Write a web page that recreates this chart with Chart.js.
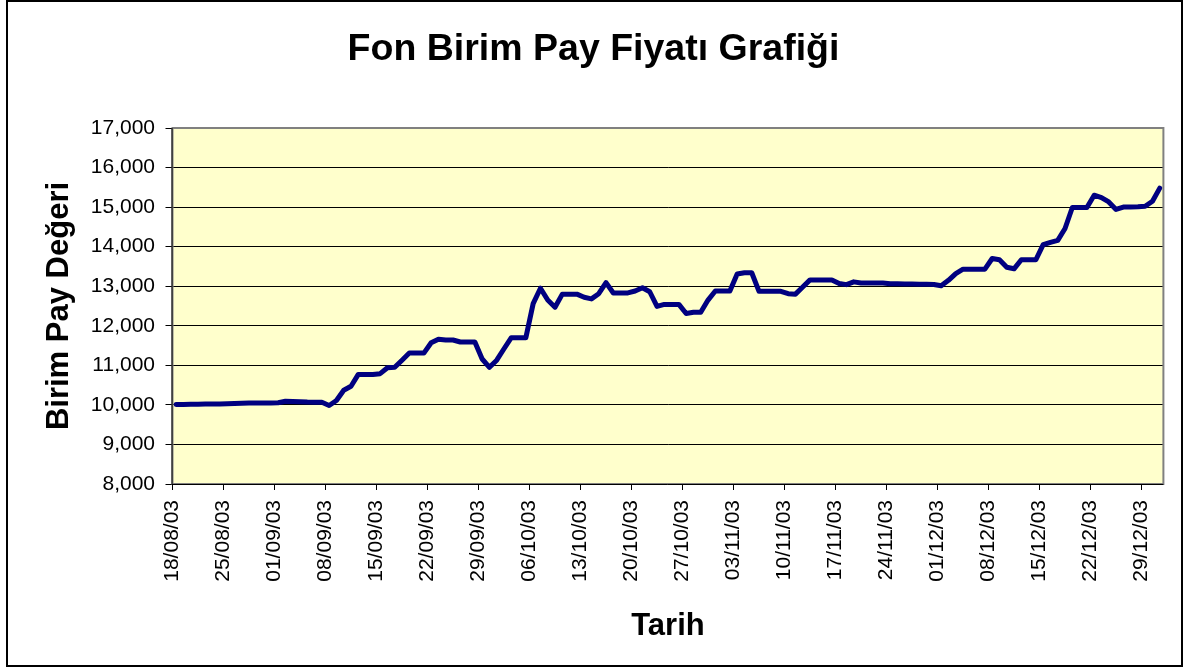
<!DOCTYPE html>
<html><head><meta charset="utf-8">
<script src="https://cdn.jsdelivr.net/npm/chart.js@4.4.1/dist/chart.umd.min.js"></script>
<style>html,body{margin:0;padding:0;background:#fff}canvas{display:block}</style>
</head><body>
<canvas id="c" width="1187" height="668"></canvas>
<script>
const dates = [
'18/08/03','19/08/03','20/08/03','21/08/03','22/08/03','23/08/03','24/08/03','25/08/03','26/08/03','27/08/03','28/08/03','29/08/03','30/08/03','31/08/03',
'01/09/03','02/09/03','03/09/03','04/09/03','05/09/03','06/09/03','07/09/03','08/09/03','09/09/03','10/09/03','11/09/03','12/09/03','13/09/03','14/09/03','15/09/03','16/09/03',
'17/09/03','18/09/03','19/09/03','20/09/03','21/09/03','22/09/03','23/09/03','24/09/03','25/09/03','26/09/03','27/09/03','28/09/03','29/09/03','30/09/03',
'01/10/03','02/10/03','03/10/03','04/10/03','05/10/03','06/10/03','07/10/03','08/10/03','09/10/03','10/10/03','11/10/03','12/10/03','13/10/03','14/10/03','15/10/03','16/10/03',
'17/10/03','18/10/03','19/10/03','20/10/03','21/10/03','22/10/03','23/10/03','24/10/03','25/10/03','26/10/03','27/10/03','28/10/03','29/10/03','30/10/03','31/10/03',
'01/11/03','02/11/03','03/11/03','04/11/03','05/11/03','06/11/03','07/11/03','08/11/03','09/11/03','10/11/03','11/11/03','12/11/03','13/11/03','14/11/03','15/11/03',
'16/11/03','17/11/03','18/11/03','19/11/03','20/11/03','21/11/03','22/11/03','23/11/03','24/11/03','25/11/03','26/11/03','27/11/03','28/11/03','29/11/03','30/11/03',
'01/12/03','02/12/03','03/12/03','04/12/03','05/12/03','06/12/03','07/12/03','08/12/03','09/12/03','10/12/03','11/12/03','12/12/03','13/12/03','14/12/03','15/12/03','16/12/03',
'17/12/03','18/12/03','19/12/03','20/12/03','21/12/03','22/12/03','23/12/03','24/12/03','25/12/03','26/12/03','27/12/03','28/12/03','29/12/03','30/12/03','31/12/03'
];
const prices = [
10010,10012,10015,10018,10020,10020,10020,10030,10035,10040,10045,10050,10050,10050,
10055,10090,10085,10080,10070,10065,10065,9985,10110,10370,10470,10770,10770,10770,10790,10940,
10950,11130,11310,11310,11310,11570,11660,11640,11640,11590,11590,11590,11160,10950,
11130,11420,11700,11700,11700,12560,12950,12650,12470,12800,12800,12800,12720,12680,12810,13090,
12830,12830,12830,12880,12960,12860,12490,12540,12540,12540,12310,12340,12340,12650,12880,
12880,12880,13310,13340,13340,12870,12870,12870,12870,12810,12800,12980,13160,13160,13160,
13160,13070,13040,13110,13080,13080,13080,13080,13060,13060,13055,13055,13050,13050,13045,
13010,13150,13320,13430,13430,13430,13430,13700,13670,13480,13440,13670,13670,13670,14050,14110,
14160,14460,14990,14990,14990,15300,15240,15130,14940,15000,15005,15010,15020,15150,15480
];
const xTickLabels = ['18/08/03','25/08/03','01/09/03','08/09/03','15/09/03','22/09/03','29/09/03','06/10/03','13/10/03','20/10/03','27/10/03','03/11/03','10/11/03','17/11/03','24/11/03','01/12/03','08/12/03','15/12/03','22/12/03','29/12/03'];
const yTickLabels = ['8,000','9,000','10,000','11,000','12,000','13,000','14,000','15,000','16,000','17,000'];
const chartTitle = 'Fon Birim Pay Fiyatı Grafiği';
const yAxisTitle = 'Birim Pay Değeri';
const xAxisTitle = 'Tarih';

const FONT = "'Liberation Sans', Arial, sans-serif";
Chart.defaults.font.family = FONT;
Chart.defaults.color = '#000';

const plotBg = {
  id: 'plotBg',
  beforeDraw(chart) {
    const {ctx, chartArea: a} = chart;
    ctx.save();
    ctx.fillStyle = '#fff';
    ctx.fillRect(0, 0, chart.width, chart.height);
    ctx.fillStyle = '#FFFFCC';
    ctx.fillRect(a.left, a.top, a.right - a.left, a.bottom - a.top);
    ctx.restore();
  },
  afterDatasetsDraw(chart) {
    const {ctx, chartArea: a} = chart;
    ctx.save();
    ctx.strokeStyle = '#808080';
    ctx.lineWidth = 2;
    ctx.strokeRect(a.left, a.top, a.right - a.left, a.bottom - a.top);
    ctx.strokeStyle = '#000';
    ctx.lineWidth = 1;
    ctx.beginPath();
    ctx.moveTo(a.left - 0.5, a.top);
    ctx.lineTo(a.left - 0.5, a.bottom + 0.5);
    ctx.lineTo(a.right, a.bottom + 0.5);
    ctx.stroke();
    ctx.restore();
  },
  afterDraw(chart) {
    const ctx = chart.ctx;
    ctx.save();
    ctx.strokeStyle = '#000';
    ctx.lineWidth = 2;
    ctx.strokeRect(7, 1, 1175, 665);
    ctx.restore();
  }
};

new Chart(document.getElementById('c'), {
  type: 'line',
  data: {
    labels: dates,
    datasets: [{
      data: prices,
      borderColor: '#000080',
      borderWidth: 5,
      pointRadius: 0,
      tension: 0,
      fill: false,
      borderCapStyle: 'round',
      borderJoinStyle: 'round'
    }]
  },
  options: {
    responsive: false,
    animation: false,
    devicePixelRatio: 1,
    layout: { padding: { left: 23.6, right: 23.6, top: 0, bottom: 0 } },
    plugins: {
      legend: { display: false },
      tooltip: { enabled: false },
      title: {
        display: true,
        text: chartTitle,
        color: '#000',
        font: { size: 37.5, weight: 'bold', family: FONT },
        padding: { top: 27, bottom: 56 }
      }
    },
    scales: {
      x: {
        type: 'category',
        offset: true,
        afterFit(s) { s.height = 184; s.paddingLeft = 0; s.paddingRight = 0; },
        grid: {
          offset: true,
          drawOnChartArea: false,
          drawTicks: true,
          tickLength: 6,
          lineWidth: 1,
          color: (ctx) => (xTickLabels.includes(dates[ctx.index]) ? '#000' : 'rgba(0,0,0,0)')
        },
        border: { display: false },
        ticks: {
          autoSkip: false,
          minRotation: 90,
          maxRotation: 90,
          padding: 10,
          labelOffset: -3.64,
          color: '#000',
          font: { size: 21 },
          callback: (v, i) => (xTickLabels.includes(dates[i]) ? dates[i] : '')
        },
        title: {
          display: true,
          text: xAxisTitle,
          color: '#000',
          font: { size: 31, weight: 'bold', family: FONT },
          padding: { top: 0, bottom: 22.9 }
        }
      },
      y: {
        min: 8000,
        max: 17000,
        afterFit(s) { s.width = 148.9; s.paddingTop = 0; s.paddingBottom = 0; },
        grid: { color: '#000', lineWidth: 1, drawTicks: true, tickLength: 7 },
        border: { display: false },
        ticks: {
          stepSize: 1000,
          padding: 10.5,
          color: '#000',
          font: { size: 21 },
          callback: (v, i) => yTickLabels[i]
        },
        title: {
          display: true,
          text: yAxisTitle,
          color: '#000',
          font: { size: 31, weight: 'bold', family: FONT },
          padding: { top: 16.8, bottom: 0 }
        }
      }
    }
  },
  plugins: [plotBg]
});
</script>
</body></html>
